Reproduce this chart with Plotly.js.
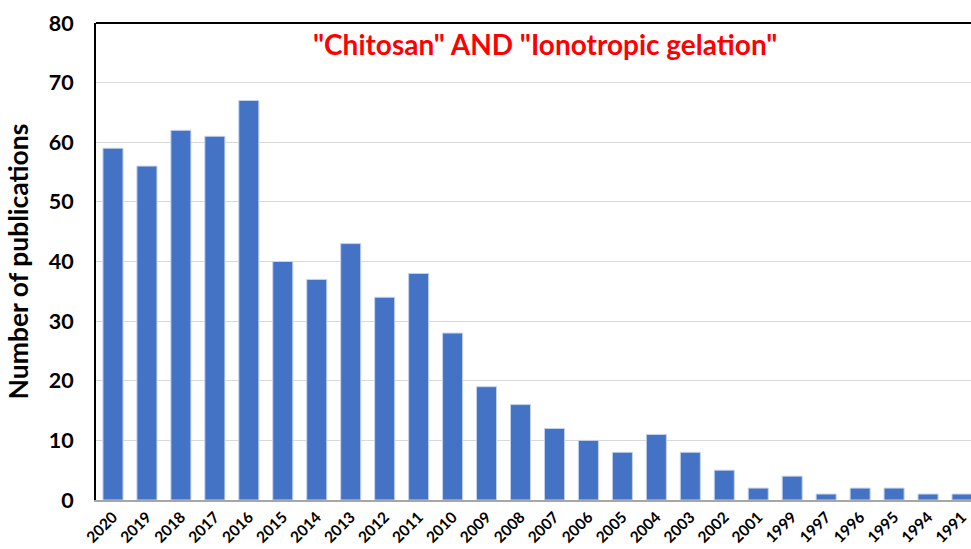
<!DOCTYPE html>
<html>
<head>
<meta charset="utf-8">
<script src="https://cdn.plot.ly/plotly-3.0.1.min.js"></script>
<style>html,body{margin:0;padding:0;background:#fff;}#chart{width:971px;height:549px;}</style>
</head>
<body>
<div id="chart"></div>
<script>
const years = ["2020","2019","2018","2017","2016","2015","2014","2013","2012","2011","2010","2009","2008","2007","2006","2005","2004","2003","2002","2001","1999","1997","1996","1995","1994","1991"];
const publications = [59,56,62,61,67,40,37,43,34,38,28,19,16,12,10,8,11,8,5,2,4,1,2,2,1,1];
const chartTitle = '"Chitosan" AND "Ionotropic gelation"';
const yTitle = 'Number of publications';

const trace = {
  type: 'bar',
  x: years,
  y: publications,
  marker: {color: '#4472C4', line: {color: '#c5d3ec', width: 1}},
  hoverinfo: 'x+y'
};

const layout = {
  width: 971, height: 549,
  margin: {l: 96, r: 0, t: 23, b: 49},
  paper_bgcolor: '#ffffff', plot_bgcolor: '#ffffff',
  bargap: 0.41,
  showlegend: false,
  font: {family: 'Lato, "Liberation Sans", sans-serif', color: '#000'},
  xaxis: {
    type: 'category',
    range: [-0.5, 25.265],
    tickangle: -45,
    tickfont: {size: 15.5, family: 'Lato, "Liberation Sans", sans-serif', weight: 'bold'},
    showline: true, linecolor: '#a6a6a6', linewidth: 2,
    showgrid: false, ticks: '', ticklen: 0,
    automargin: false
  },
  yaxis: {
    range: [0, 80],
    dtick: 10,
    tickfont: {size: 21.5, family: 'Lato, "Liberation Sans", sans-serif', weight: 'bold'},
    showline: true, linecolor: '#000', linewidth: 2,
    gridcolor: '#d9d9d9', gridwidth: 1,
    zeroline: false, ticks: '', ticklen: 0,
    ticklabelstandoff: 16,
    title: {text: yTitle, font: {size: 26.5, weight: 'bold'}, standoff: 12},
    automargin: false
  },
  shapes: [{type: 'line', xref: 'paper', yref: 'paper', x0: 0, x1: 1, y0: 1, y1: 1, line: {color: '#000', width: 2}}],
  annotations: [{
    text: chartTitle, xref: 'paper', yref: 'paper', x: 0.513, y: 0.955,
    xanchor: 'center', yanchor: 'middle', showarrow: false,
    font: {size: 28, color: '#ff0000', weight: 'bold', family: 'Lato, "Liberation Sans", sans-serif'}
  }]
};

Plotly.newPlot('chart', [trace], layout, {displayModeBar: false, staticPlot: true});
</script>
</body>
</html>
